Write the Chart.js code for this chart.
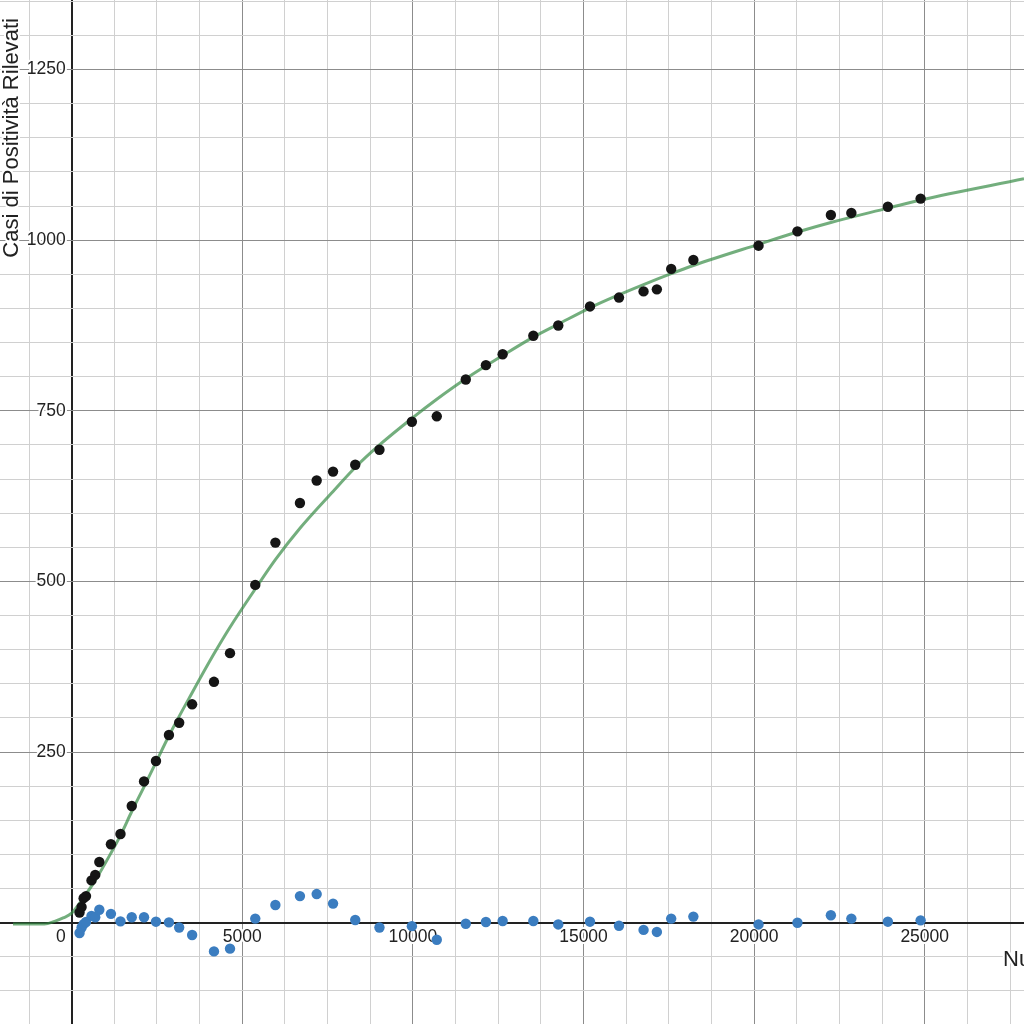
<!DOCTYPE html>
<html>
<head>
<meta charset="utf-8">
<script src="https://cdn.jsdelivr.net/npm/chart.js@4/dist/chart.umd.min.js"></script>
<style>
  body { margin: 0; background: #fff; }
  #grafico { display: block; }
</style>
</head>
<body>
<canvas id="grafico" width="1024" height="1024"></canvas>
<script>
// dati
var tamponi = [230, 290, 350, 420, 580, 690, 810, 1150, 1430, 1760, 2120, 2470, 2850, 3150, 3530,
  4170, 4640, 5380, 5970, 6690, 7180, 7660, 8310, 9020, 9970, 10700, 11550, 12140, 12630, 13530,
  14260, 15190, 16040, 16760, 17150, 17570, 18220, 20130, 21270, 22250, 22850, 23920, 24880];
var casi = [15, 23, 36, 39, 62, 70, 89, 115, 130, 171, 207, 237, 275, 293, 320,
  353, 395, 495, 557, 615, 648, 661, 671, 693, 734, 742, 796, 817, 833, 860,
  875, 903, 916, 925, 928, 958, 971, 992, 1013, 1037, 1040, 1049, 1061];
var residui = [-15, -7, -2, 1, 10, 8, 19, 13, 2, 8, 8, 1.5, 0.5, -7, -18,
  -42, -38, 6, 26, 39, 42, 28, 4, -7, -5, -25, -1.5, 1, 2.5, 2.5,
  -2.5, 1.5, -4.5, -10.5, -13.5, 6, 9, -2.5, 0, 11, 6, 1.5, 3.5];

// curva di regressione (punti letti)
var curvaX = [-1720, -800, -500, -250, 0, 350, 690, 1150, 1430, 1760, 2120, 2470, 2850, 3530,
  4170, 4640, 5380, 5970, 6690, 7660, 8310, 9020, 9970, 10700, 11550, 12630, 13530, 14260,
  15190, 16040, 16760, 17570, 18220, 20130, 21270, 22250, 23920, 24880, 27910];
var curvaY = [-2, -2, 2, 7, 14, 37, 62, 102, 128, 163, 199, 235, 274, 337,
  394, 433, 489, 532, 578, 632, 667, 700, 739, 767, 797, 831, 858, 877,
  901, 920, 935, 951, 963, 994, 1012, 1026, 1047, 1059, 1090];

var xLabels = [5000, 10000, 15000, 20000, 25000];
var yLabels = [250, 500, 750, 1000, 1250];

var puntiCasi = tamponi.map(function(x, i) { return {x: x, y: casi[i]}; });
var puntiResidui = tamponi.map(function(x, i) { return {x: x, y: residui[i]}; });
var puntiCurva = curvaX.map(function(x, i) { return {x: x, y: curvaY[i]}; });

function gridColor(major) {
  return function(ctx) {
    var v = ctx.tick.value;
    if (v === 0) return '#222222';
    if (v % major === 0) return '#8c8c8c';
    return '#d0d0d0';
  };
}
function gridWidth(ctx) {
  return ctx.tick.value === 0 ? 2 : 1;
}
function griglia(step) {
  return function(scale) {
    var t = [];
    var v = Math.ceil(scale.min / step) * step;
    for (; v <= scale.max; v += step) t.push({value: v});
    scale.ticks = t;
  };
}

var etichette = {
  id: 'etichette',
  beforeDatasetsDraw: function(chart) {
    var c = chart.ctx;
    var sx = chart.scales.x, sy = chart.scales.y;
    var x0 = sx.getPixelForValue(0), y0 = sy.getPixelForValue(0);
    c.save();
    c.font = '17.5px "Liberation Sans", Arial, sans-serif';
    c.fillStyle = '#222';
    c.strokeStyle = '#fff';
    c.lineWidth = 4;
    c.lineJoin = 'round';

    c.textAlign = 'center';
    c.textBaseline = 'middle';
    xLabels.forEach(function(v) {
      var px = sx.getPixelForValue(v);
      c.strokeText(String(v), px, y0 + 14);
      c.fillText(String(v), px, y0 + 14);
    });

    c.textAlign = 'right';
    yLabels.forEach(function(v) {
      var py = sy.getPixelForValue(v);
      c.strokeText(String(v), x0 - 6, py);
      c.fillText(String(v), x0 - 6, py);
    });
    c.strokeText('0', x0 - 6, y0 + 14);
    c.fillText('0', x0 - 6, y0 + 14);

    // titoli assi
    c.font = '22px "Liberation Sans", Arial, sans-serif';
    c.textAlign = 'left';
    c.textBaseline = 'alphabetic';
    c.strokeText('Numero di Tamponi', 1003, y0 + 43);
    c.fillText('Numero di Tamponi', 1003, y0 + 43);

    c.translate(x0 - 54, 18);
    c.rotate(-Math.PI / 2);
    c.textAlign = 'right';
    c.strokeText('Casi di Positività Rilevati', 0, 0);
    c.fillText('Casi di Positività Rilevati', 0, 0);
    c.restore();
  }
};

var ctx = document.getElementById('grafico').getContext('2d');
new Chart(ctx, {
  type: 'scatter',
  data: {
    datasets: [
      {
        label: 'Casi',
        data: puntiCasi,
        backgroundColor: '#151515',
        borderWidth: 0,
        pointRadius: 5.2,
        pointHoverRadius: 5.2
      },
      {
        label: 'Residui',
        data: puntiResidui,
        backgroundColor: '#3b7dc0',
        borderWidth: 0,
        pointRadius: 5.2,
        pointHoverRadius: 5.2
      },
      {
        label: 'Curva',
        type: 'line',
        data: puntiCurva,
        borderColor: 'rgba(56,140,70,0.7)',
        borderWidth: 3,
        pointRadius: 0,
        cubicInterpolationMode: 'monotone',
        fill: false
      }
    ]
  },
  options: {
    responsive: false,
    animation: false,
    layout: { padding: 0, autoPadding: false },
    plugins: {
      legend: { display: false },
      tooltip: { enabled: false }
    },
    scales: {
      x: {
        type: 'linear',
        min: -2101,
        max: 27910,
        border: { display: false },
        afterBuildTicks: griglia(1250),
        ticks: { display: false, autoSkip: false },
        grid: { drawTicks: false, color: gridColor(5000), lineWidth: gridWidth }
      },
      y: {
        type: 'linear',
        min: -148.4,
        max: 1352,
        border: { display: false },
        afterBuildTicks: griglia(50),
        ticks: { display: false, autoSkip: false },
        grid: { drawTicks: false, color: gridColor(250), lineWidth: gridWidth }
      }
    }
  },
  plugins: [etichette]
});
</script>
</body>
</html>
